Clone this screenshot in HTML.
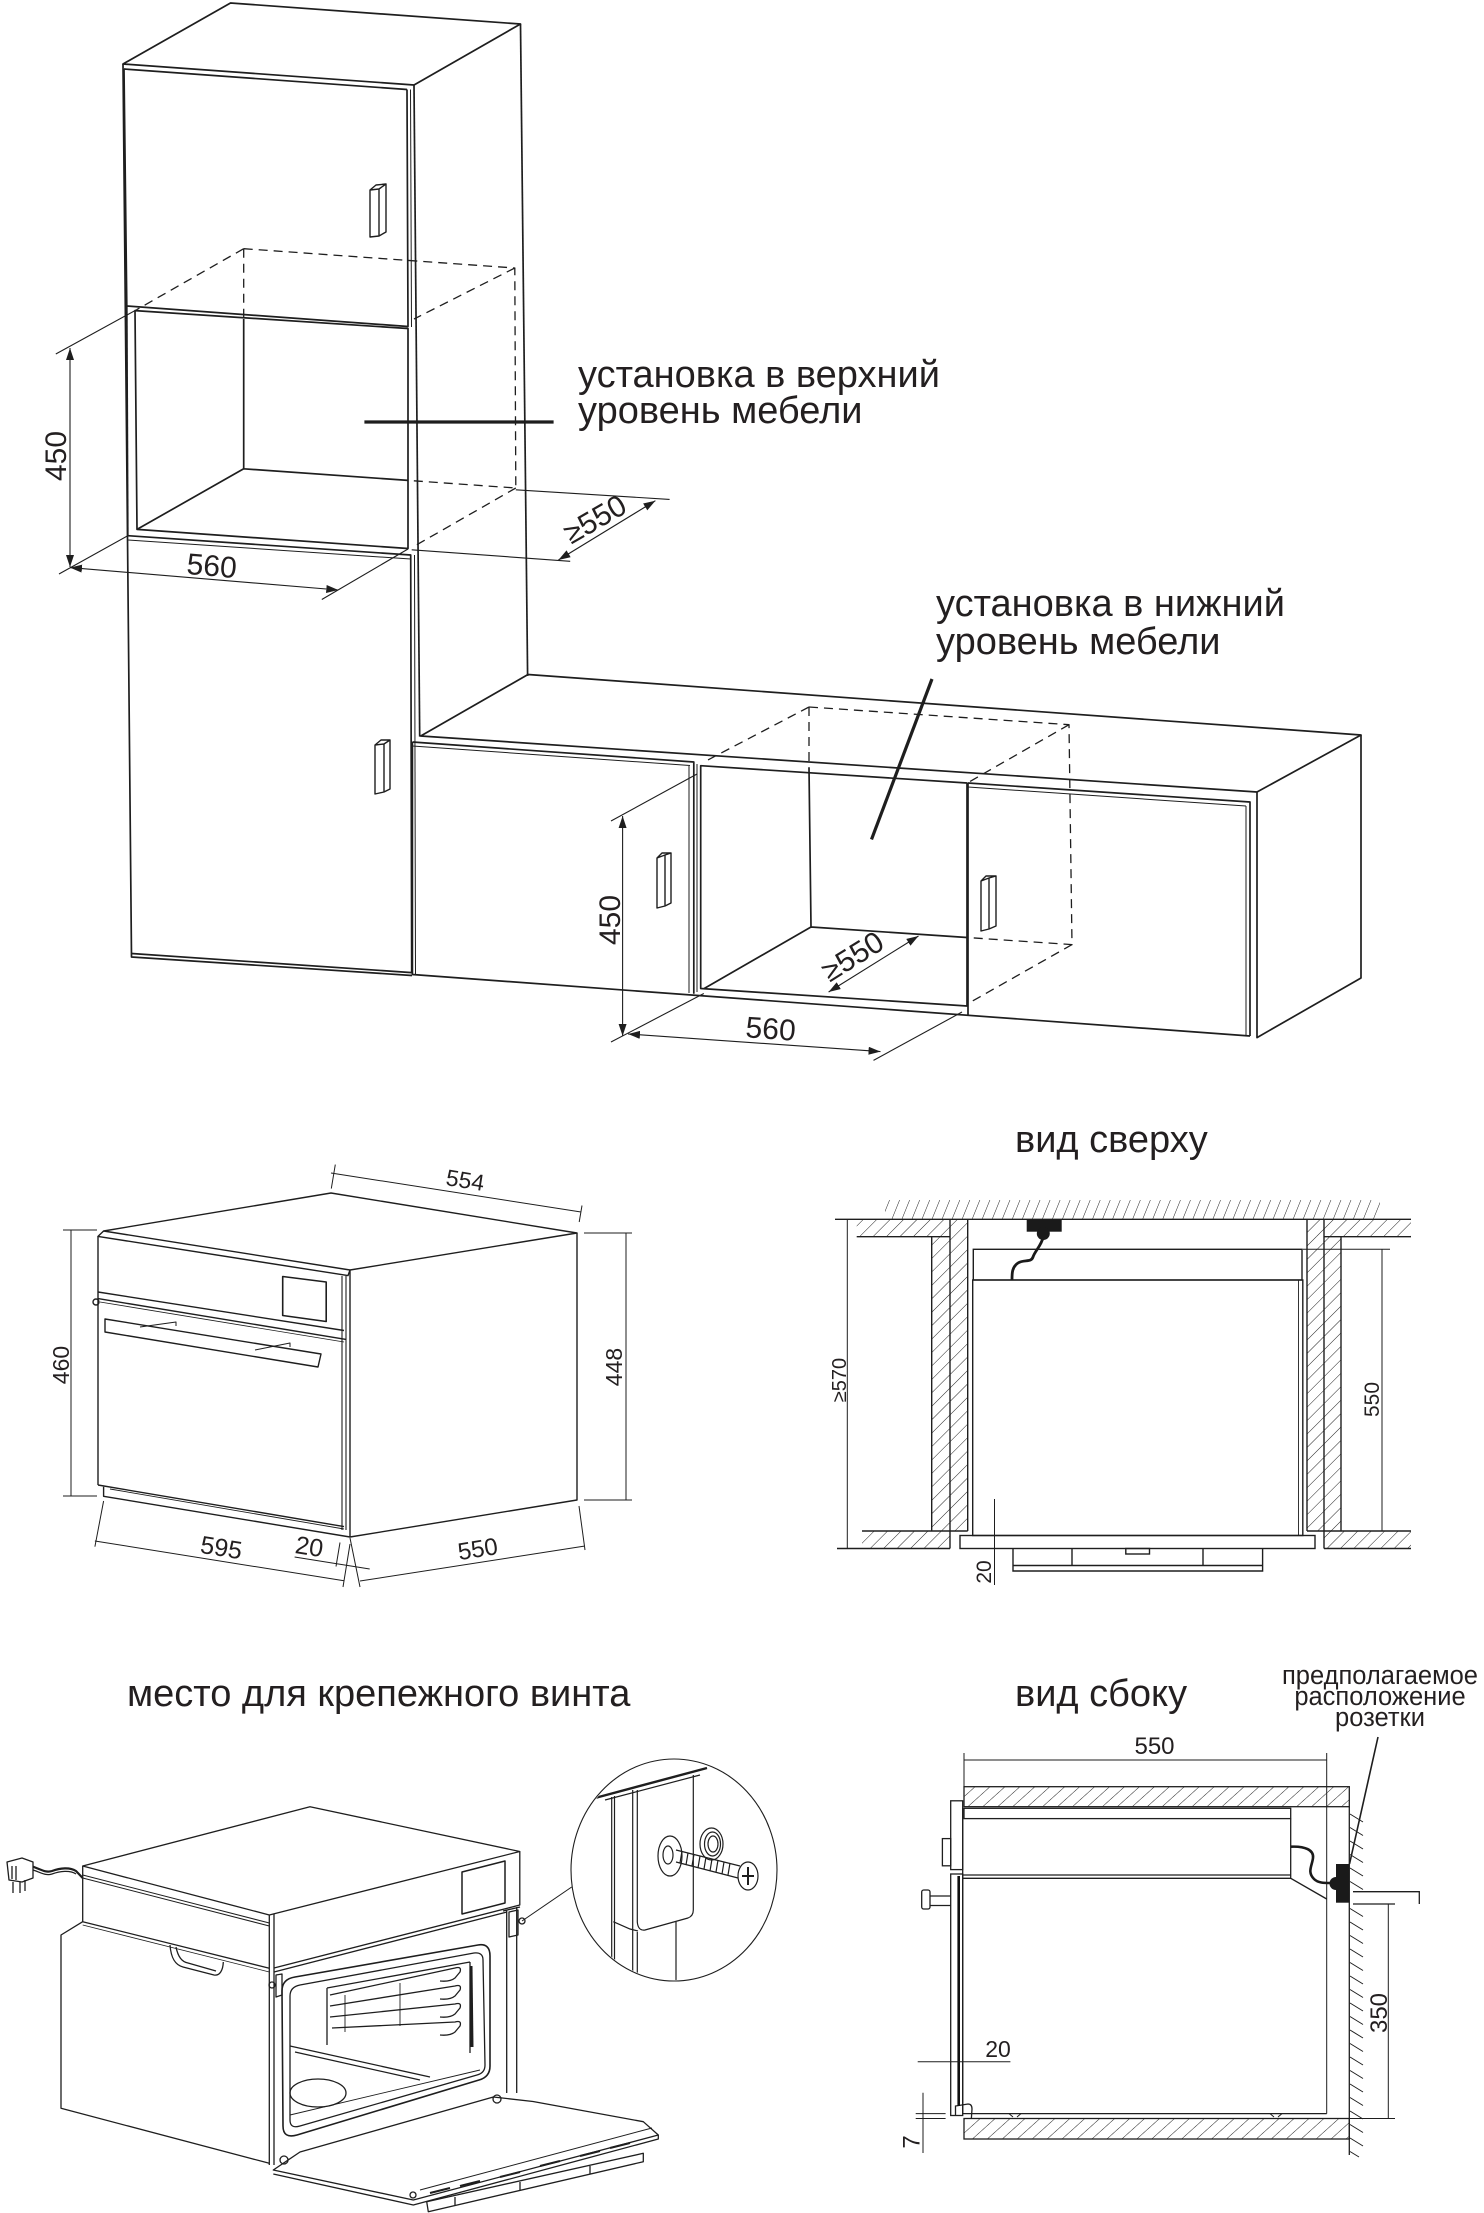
<!DOCTYPE html>
<html><head><meta charset="utf-8"><style>
html,body{margin:0;padding:0;background:#fff;}
svg{display:block;}
text{font-family:"Liberation Sans","DejaVu Sans",sans-serif;fill:#231f20;}
</style></head><body>
<svg xmlns="http://www.w3.org/2000/svg" width="1484" height="2213" viewBox="0 0 1484 2213">
<defs>
<marker id="ar" viewBox="0 0 12 8" refX="12" refY="4" markerWidth="12" markerHeight="8" markerUnits="userSpaceOnUse" orient="auto-start-reverse"><path d="M0,0 L12,4 L0,8 Z" fill="#1e1e1e"/></marker>
<pattern id="hA" width="9.5" height="9.5" patternUnits="userSpaceOnUse" patternTransform="rotate(45)"><line x1="0" y1="0" x2="0" y2="9.5" stroke="#222" stroke-width="1"/></pattern>
<pattern id="hB" width="9.3" height="9.3" patternUnits="userSpaceOnUse" patternTransform="rotate(22)"><line x1="0" y1="0" x2="0" y2="9.3" stroke="#222" stroke-width="1"/></pattern>
<pattern id="hC" width="10" height="10" patternUnits="userSpaceOnUse" patternTransform="rotate(48)"><line x1="0" y1="0" x2="0" y2="10" stroke="#222" stroke-width="1"/></pattern>
<clipPath id="mag"><ellipse cx="674" cy="1870" rx="102" ry="110"/></clipPath>
</defs>

<!-- ================= SECTION 1 : FURNITURE ================= -->
<g stroke="#1e1e1e" stroke-width="1.7" fill="none" stroke-linejoin="round">
  <path d="M123,64 L230.5,3 L520.5,24 L414,85 Z"/>
  <path d="M124,69 L407,89.5"/>
  <path d="M414,85 L419.7,736.6"/>
  <path d="M520.5,24 L527.6,676"/>
  <path d="M123,64 L131.5,957 L412,975.5"/>
  <path d="M124,69 L126.8,306 L408,326.5 L407,89.5"/>
  <path d="M410.5,89.5 L411.5,327" stroke-width="1"/>
  <path d="M135,310.6 L408,328.5 L408,548.5 L137,529.4 Z"/>
  <path d="M126.8,306 L127.8,535.7"/>
  <path d="M127.8,535.7 L410.7,555 L411.7,972.6 L131.5,953.5"/>
  <path d="M128,540 L410.7,559" stroke-width="1"/>
  <path d="M414.5,555 L415.5,974" stroke-width="1"/>
  <path d="M243.7,319 L243.7,468.8 L408,480.4 M243.7,468.8 L137,529.4"/>
  <g stroke-dasharray="9 6" stroke-width="1.3">
    <path d="M243.7,248.7 L243.7,319"/>
    <path d="M243.7,248.7 L514.8,268 L515.8,488 L408,480.4"/>
    <path d="M243.7,248.7 L137,309.5"/>
    <path d="M514.8,268 L414,319"/>
    <path d="M515.8,488 L416.4,545"/>
  </g>
  <path d="M370,190 L370,237 L379,236 L379,189 Z M370,190 L376,185 L386,184 L386,232 L379,236 M379,189 L386,184" stroke-width="1.4"/>
  <path d="M375,745 L375,794 L384,792 L384,744 Z M375,745 L381,740 L390,740 L390,789 L384,792 M384,744 L390,740" stroke-width="1.4"/>

  <path d="M420.7,736 L528,674.5 L1361,735 L1257,792 Z"/>
  <path d="M1361,735 L1361,978 L1257,1037.6 L1257,792"/>
  <path d="M412.4,742 L412.4,974.5 L1250,1036"/>
  <path d="M412.4,742 L693.8,762 L693.8,993.7"/>
  <path d="M412.4,746 L690,765.5 M689,765 L689,993" stroke-width="1"/>
  <path d="M700.7,765.7 L967,783 L967,1006 L700.7,988.5 Z"/>
  <path d="M697,764 L697,992" stroke-width="1"/>
  <path d="M968,783 L1250,802 L1250,1036 M968,783 L968,1015"/>
  <path d="M968,787 L1246,806 M1246,806 L1246,1035" stroke-width="1"/>
  <path d="M809,768 L811,927 L967,937.5 M811,927 L704.2,988.5"/>
  <g stroke-dasharray="9 6" stroke-width="1.3">
    <path d="M809,707 L809,768"/>
    <path d="M809,707 L1069,724.7 L1072,944.6 L967,937.5"/>
    <path d="M809,707 L704,762"/>
    <path d="M1069,724.7 L969,782"/>
    <path d="M1072,944.6 L969,1003"/>
  </g>
  <path d="M657,858 L657,908 L665,906 L665,855 Z M657,858 L662,853 L671,853 L671,903 L665,906 M665,855 L671,853" stroke-width="1.4"/>
  <path d="M981,881 L981,931 L989,929 L989,878 Z M981,881 L986,876 L996,876 L996,926 L989,929 M989,878 L996,876" stroke-width="1.4"/>
</g>

<g stroke="#1e1e1e" stroke-width="1.1" fill="none">
  <path d="M70,348 L70,567" marker-start="url(#ar)" marker-end="url(#ar)"/>
  <path d="M55.8,354 L137,309.5 M59,574 L127.8,535.7"/>
  <path d="M70,567.6 L338.3,590" marker-start="url(#ar)" marker-end="url(#ar)"/>
  <path d="M321.8,599.5 L408,549"/>
  <path d="M558.4,560 L655.4,500.7" marker-start="url(#ar)" marker-end="url(#ar)"/>
  <path d="M515.8,489.8 L669.6,499.4 M411.7,549.8 L570.2,561.3"/>
  <path d="M622.6,816 L622.6,1036" marker-start="url(#ar)" marker-end="url(#ar)"/>
  <path d="M611,821 L697,774 M611,1042 L703.8,993.5"/>
  <path d="M628,1034 L880.5,1051.6" marker-start="url(#ar)" marker-end="url(#ar)"/>
  <path d="M873.5,1060.4 L962,1012"/>
  <path d="M828.6,992 L918.5,936" marker-start="url(#ar)" marker-end="url(#ar)"/>
</g>
<g stroke="#1e1e1e" stroke-width="3.2" fill="none">
  <path d="M364.4,422 L553.6,422"/>
  <path d="M932,679 L871.5,839.4"/>
</g>
<g font-size="30">
  <text transform="translate(66,456) rotate(-90)" text-anchor="middle">450</text>
  <text transform="translate(211,576) rotate(4.8)" text-anchor="middle">560</text>
  <text transform="translate(600,528) rotate(-30)" text-anchor="middle">≥550</text>
  <text transform="translate(620,920) rotate(-90)" text-anchor="middle">450</text>
  <text transform="translate(770,1039) rotate(4)" text-anchor="middle">560</text>
  <text transform="translate(858,965) rotate(-32)" text-anchor="middle">≥550</text>
</g>
<g font-size="38">
  <text x="578" y="387">установка в верхний</text>
  <text x="578" y="423">уровень мебели</text>
  <text x="936" y="616">установка в нижний</text>
  <text x="936" y="654">уровень мебели</text>
</g>

<!-- ================= SECTION 2 LEFT : OVEN FRONT ================= -->
<g stroke="#1e1e1e" stroke-width="1.4" fill="none" stroke-linejoin="round">
  <path d="M103.6,1231 L331,1193 L577,1233 L350,1270 Z"/>
  <path d="M350,1270 L350,1537 L577,1500 L577,1233"/>
  <path d="M103.6,1231 L98,1236.4 L348,1275.6 L350,1270"/>
  <path d="M98,1236.4 L98,1485"/>
  <path d="M98,1292 L344,1330.5"/>
  <path d="M98,1298.6 L346,1339.4"/>
  <path d="M100,1302 L344,1342" stroke-width="0.8"/>
  <path d="M98,1485 L344,1526.6"/>
  <path d="M342,1276 L342,1530 M346,1276 L346,1530" stroke-width="1.1"/>
  <path d="M282.7,1276.5 L326.2,1282 L326.2,1321.5 L282.7,1315.5 Z" stroke-width="1.6"/>
  <path d="M105,1319 L321,1354 L318,1367 L105,1332 Z"/>
  <path d="M140,1327 L176,1322 L176,1326 M255,1350 L290,1343 L290,1347" stroke-width="1"/>
  <circle cx="96" cy="1302" r="3"/>
  <path d="M103.6,1486.7 L103.6,1496.3 L350,1537"/>
  <path d="M110,1489 L344,1529" stroke-width="0.9"/>
</g>
<g stroke="#1e1e1e" stroke-width="1" fill="none">
  <path d="M71,1230 L71,1496 M63,1230 L97,1230 M63,1496 L97,1496"/>
  <path d="M626,1233 L626,1500 M584,1233 L632,1233 M584,1500 L632,1500"/>
  <path d="M331,1173 L581,1212 M331.3,1188.6 L335.3,1164.6 M579.2,1222 L582,1205.5"/>
  <path d="M94.9,1541 L344,1580.8 M103.6,1501 L94.9,1546.7 M350,1544 L343,1587"/>
  <path d="M294.6,1557 L369.7,1569 M340,1542.5 L336,1566.5"/>
  <path d="M360,1581 L585,1546 M350,1538 L360,1587 M579,1506 L585,1550"/>
</g>
<g font-size="23">
  <text transform="translate(69,1365) rotate(-90)" text-anchor="middle">460</text>
  <text transform="translate(622,1367) rotate(-90)" text-anchor="middle">448</text>
  <text transform="translate(464,1188) rotate(9)" text-anchor="middle">554</text>
  <text transform="translate(220,1556) rotate(9)" text-anchor="middle" font-size="25">595</text>
  <text transform="translate(308,1555) rotate(9)" text-anchor="middle" font-size="25">20</text>
  <text transform="translate(479,1557) rotate(-9)" text-anchor="middle" font-size="24">550</text>
</g>

<!-- ================= SECTION 2 RIGHT : TOP VIEW ================= -->
<text x="1015" y="1152" font-size="38">вид сверху</text>
<g>
  <rect x="885" y="1200" width="495" height="19" fill="url(#hB)"/>
  <rect x="856.7" y="1219.3" width="111" height="17.4" fill="url(#hA)"/>
  <rect x="931.7" y="1236.7" width="36" height="294.3" fill="url(#hA)"/>
  <rect x="862" y="1531" width="88" height="17.5" fill="url(#hA)"/>
  <rect x="1307" y="1219.3" width="104" height="17.4" fill="url(#hA)"/>
  <rect x="1307" y="1236.7" width="34" height="294.3" fill="url(#hA)"/>
  <rect x="1324" y="1531" width="87" height="17.5" fill="url(#hA)"/>
</g>
<g stroke="#1e1e1e" stroke-width="1.4" fill="none">
  <path d="M835,1219.3 L1411,1219.3"/>
  <path d="M856.7,1236.7 L950,1236.7 M931.7,1236.7 L931.7,1531 M950,1219.3 L950,1548.5 M967.7,1219.3 L967.7,1531"/>
  <path d="M862,1531 L967.7,1531 M837,1548.5 L950,1548.5"/>
  <path d="M1324,1236.7 L1411,1236.7 M1307,1219.3 L1307,1531 M1324,1219.3 L1324,1548.5 M1341,1236.7 L1341,1531"/>
  <path d="M1307,1531 L1411,1531 M1324,1548.5 L1411,1548.5"/>
  <rect x="973.3" y="1249.3" width="328.7" height="30.7"/>
  <rect x="972.7" y="1280" width="330.1" height="255.5"/>
  <path d="M1298.5,1280 L1298.5,1535.5" stroke-width="0.9"/>
  <rect x="960" y="1535.5" width="355" height="13"/>
  <path d="M1013,1548.5 L1013,1571 L1262.6,1571 L1262.6,1548.5 M1013,1565.5 L1262.6,1565.5 M1072,1548.5 L1072,1565.5 M1203,1548.5 L1203,1565.5"/>
  <rect x="1125.8" y="1548.5" width="23.7" height="5.5"/>
</g>
<g fill="#1a1a1a" stroke="none">
  <rect x="1026.7" y="1219.3" width="35" height="12.4"/>
  <circle cx="1043.3" cy="1233.5" r="6.5"/>
</g>
<path d="M1043.3,1237 C1041,1246 1035,1251 1033,1257 C1031,1263 1024,1259 1018,1263 C1012,1267 1012,1273 1012,1280" stroke="#1a1a1a" stroke-width="2.8" fill="none"/>
<g stroke="#1e1e1e" stroke-width="1" fill="none">
  <path d="M847.3,1219.3 L847.3,1548.5"/>
  <path d="M1382,1249.3 L1382,1531 M1302.8,1249.3 L1390,1249.3"/>
  <path d="M994.5,1499 L994.5,1585"/>
</g>
<g font-size="21">
  <text transform="translate(846,1380) rotate(-90)" text-anchor="middle" font-size="20">≥570</text>
  <text transform="translate(1379,1399.5) rotate(-90)" text-anchor="middle">550</text>
  <text transform="translate(991,1572) rotate(-90)" text-anchor="middle">20</text>
</g>

<!-- ================= SECTION 3 LEFT : OVEN PERSPECTIVE ================= -->
<text x="127" y="1706" font-size="38">место для крепежного винта</text>
<g stroke="#1e1e1e" stroke-width="1.3" fill="none" stroke-linejoin="round">
  <path d="M7,1862 L22,1858 L33,1862 L33,1878 L22,1882 L9,1880 Z M12,1866 L12,1879 M16,1866 L16,1880"/>
  <path d="M13,1882 L13,1893 M20,1882 L20,1893 M25,1880 L25,1891"/>
  <path d="M33,1866.7 C42,1870 46,1873 52,1871 C60,1868 70,1867 76,1871 L82.7,1878" stroke-width="2.2"/>
  <path d="M33,1870 C42,1873 46,1876 52,1874 C60,1871 70,1870 76,1874"/>
  <path d="M82.7,1866 L310,1806.7 L519.8,1851.5 L269.3,1915 Z"/>
  <path d="M82.7,1875 L269.3,1923 M82.7,1878 L269.3,1926" stroke-width="1"/>
  <path d="M82.7,1866 L82.7,1921.7 L269.3,1968.3"/>
  <path d="M82.7,1925 L269.3,1972" stroke-width="0.8"/>
  <path d="M82.7,1921.7 L61,1935 L61,2108.3 L269.3,2163.3"/>
  <path d="M170,1945 C171,1958 175,1965 183,1967 L214,1975 C220,1976 223,1970 223.3,1962"/>
  <path d="M176,1947 C178,1957 182,1962 188,1963 L216,1971"/>
  <path d="M269.3,1915 L269.3,2165 M274,1913.7 L274,2165"/>
  <path d="M519.8,1851.5 L519.8,1905 L274,1968"/>
  <path d="M462,1872 L505,1861 L505,1903 L462,1914 Z" stroke-width="1.5"/>
  <path d="M506.7,1910 L506.7,2093 M516.7,1907 L516.7,2093 M503,1911 L520,1907"/>
  <path d="M509,1912 L518,1910 L518,1935 L509,1937 Z"/>
  <circle cx="522" cy="1921" r="3"/>
  <path d="M274,1972 L507,1912"/>
  <path d="M276,1975 L282,1974 L282,1995 L276,1997 Z"/>
  <circle cx="272" cy="1985" r="3"/>
  <path d="M295,1977 L478,1945 Q490,1943 490,1956 L490,2066 Q490,2077 479,2080 L297,2135 Q283,2139 283,2126 L282,1991 Q282,1979 295,1977 Z" stroke-width="1.6"/>
  <path d="M300,1985 L474,1953 Q483,1952 483,1960 L485,2065 Q485,2073 477,2075 L300,2126 Q290,2129 290,2120 L290,1996 Q290,1987 300,1985 Z"/>
  <path d="M327,1988 L470,1962 M327,1988 L327,2045 M470,1962 L470,2053"/>
  <path d="M471,1966 L472,2047" stroke-width="3"/>
  <path d="M330,1995 L455,1968 Q462,1966 460,1972 L455,1978 Q450,1982 440,1981 M330,2006 L455,1986 Q462,1984 460,1990 L455,1996 Q450,2000 440,1999 M330,2017 L455,2004 Q462,2002 460,2008 L455,2014 Q450,2018 440,2017 M332,2028 L455,2022 Q462,2020 460,2026 L455,2032 Q450,2036 440,2035"/>
  <path d="M345,1995 L345,2032 M400,1983 L400,2026" stroke-width="0.9"/>
  <path d="M290,2046 L430,2077 M295,2052 L420,2080"/>
  <ellipse cx="318" cy="2093" rx="28" ry="14"/>
  <path d="M290,2115 L480,2070" stroke-width="0.9"/>
  <path d="M273.3,2170 L300,2152 L493.3,2097 L533,2101.5 L643.3,2121.7 L658.3,2135 L413.3,2200 Z"/>
  <path d="M273.3,2174 L413.3,2205 L658.3,2139 L658.3,2135"/>
  <path d="M420,2190 L652,2128" stroke-width="1"/>
  <path d="M430,2193 L450,2188 M460,2186 L480,2181 M500,2177 L520,2172 M540,2166 L560,2161 M580,2156 L600,2151 M610,2148 L630,2143" stroke-width="2"/>
  <path d="M426.7,2201.7 L643.3,2153.3 L643.3,2161.7 L428.3,2211.7 Z"/>
  <path d="M455,2197 L455,2205 M520,2182 L520,2190 M590,2166 L590,2174"/>
  <circle cx="284" cy="2160" r="4"/>
  <circle cx="497" cy="2099" r="4"/>
  <circle cx="413" cy="2195" r="3"/>
</g>
<g stroke="#1e1e1e" fill="none">
  <ellipse cx="674" cy="1870" rx="103" ry="111" stroke-width="1.1"/>
  <path d="M522,1921 L571.7,1887" stroke-width="1"/>
  <g clip-path="url(#mag)" stroke-width="1.2">
    <path d="M595,1798 L707,1768" stroke-width="2.4"/>
    <path d="M605,1800 L700,1775"/>
    <path d="M611.7,1797 L611.7,1985 M614.5,1796 L614.5,1985"/>
    <path d="M632.7,1790 L632.7,1985"/>
    <path d="M637.3,1790 L637.3,1922 Q638,1931 645,1930 L688,1918 Q693.3,1916 693.3,1910 L693.3,1775"/>
    <path d="M613.3,1921.7 L630,1929 L638,1931"/>
    <path d="M637.3,1932 L637.3,1985 M676,1921.7 L676,1985"/>
    <ellipse cx="670" cy="1856" rx="12" ry="20"/>
    <ellipse cx="668" cy="1855" rx="5" ry="9"/>
    <ellipse cx="711.5" cy="1844" rx="11.5" ry="16"/>
    <ellipse cx="712.5" cy="1844" rx="8" ry="12"/>
    <ellipse cx="713" cy="1844" rx="5" ry="8"/>
    <path d="M676,1850 L740,1866 M676,1862 L738,1878"/>
    <path d="M682,1851 L680,1863 M688,1853 L686,1865 M694,1854 L692,1866 M700,1856 L698,1868 M706,1857 L704,1869 M712,1859 L710,1871 M718,1860 L716,1872 M724,1862 L722,1874 M730,1863 L728,1875"/>
    <ellipse cx="748" cy="1876" rx="10" ry="14"/>
    <path d="M748,1867 L748,1885 M742,1876 L754,1876" stroke-width="2"/>
  </g>
</g>

<!-- ================= SECTION 3 RIGHT : SIDE VIEW ================= -->
<text x="1015" y="1706" font-size="38">вид сбоку</text>
<g font-size="25.5" text-anchor="middle">
  <text x="1380" y="1684">предполагаемое</text>
  <text x="1380" y="1705">расположение</text>
  <text x="1380" y="1726">розетки</text>
</g>
<path d="M1378,1737 L1349.5,1864" stroke="#1e1e1e" stroke-width="1.6"/>
<rect x="964" y="1786.7" width="385.3" height="20" fill="url(#hC)"/>
<rect x="964" y="2118.5" width="385.3" height="20.5" fill="url(#hC)"/>
<g stroke="#1e1e1e" stroke-width="1.3" fill="none">
  <rect x="964" y="1786.7" width="385.3" height="20"/>
  <rect x="964" y="2118.5" width="385.3" height="20.5"/>
  <rect x="964" y="1808.3" width="326.7" height="10.3"/>
  <path d="M1290.7,1818.6 L1290.7,1878.3 M962.7,1875 L1290.7,1875 M962.7,1878.3 L1290.7,1878.3 L1326.7,1899"/>
  <path d="M962.7,1808 L962.7,2113.6 L1326.7,2113.6"/>
  <path d="M1009,2113.6 L1013,2117 M1017,2117 L1021,2113.6 M1270,2113.6 L1274,2117 M1278,2117 L1282,2113.6" stroke-width="1"/>
  <rect x="950.7" y="1800.8" width="12" height="68.8"/>
  <rect x="942.4" y="1838.6" width="8.3" height="27.2"/>
  <rect x="950.7" y="1874" width="12" height="241.5"/>
  <path d="M930,1896 L950.7,1896 M930,1905.5 L950.7,1905.5"/>
  <rect x="921.7" y="1890" width="8.3" height="19" rx="2"/>
  <path d="M955.5,2116 L955.5,2106 L968,2104 Q972,2104 972,2109 L971.4,2118"/>
  <path d="M1349.3,1806.7 L1349.3,2155"/>
  <path d="M1350,1814 l13,8 M1350,1827.5 l13,8 M1350,1841 l13,8 M1350,1854.5 l13,8 M1350,1868 l13,8 M1350,1881.5 l13,8 M1350,1908.5 l13,8 M1350,1922 l13,8 M1350,1935.5 l13,8 M1350,1949 l13,8 M1350,1962.5 l13,8 M1350,1976 l13,8 M1350,1989.5 l13,8 M1350,2003 l13,8 M1350,2016.5 l13,8 M1350,2030 l13,8 M1350,2043.5 l13,8 M1350,2057 l13,8 M1350,2070.5 l13,8 M1350,2084 l13,8 M1350,2097.5 l13,8 M1350,2111 l13,8 M1350,2124.5 l13,8 M1350,2138 l13,8 M1350,2151.5 l9,5.5" stroke-width="1"/>
  <path d="M1353,1891.7 L1419.3,1891.7 L1419.3,1904 M1353,1904 L1395,1904"/>
</g>
<path d="M958.7,1876 L958.7,2106" stroke="#111" stroke-width="2.6"/>
<g fill="#1a1a1a">
  <rect x="1336" y="1864" width="13.3" height="38.7"/>
  <path d="M1336,1877 A6.5,6.5 0 0 0 1336,1890 Z"/>
</g>
<path d="M1290.7,1846.7 C1305,1846 1314,1850 1313,1858 C1312,1866 1307,1872 1314,1879 C1318,1883 1324,1883 1330,1883" stroke="#1a1a1a" stroke-width="2.6" fill="none"/>
<g stroke="#1e1e1e" stroke-width="1" fill="none">
  <path d="M964,1760 L1326.7,1760 M964,1753 L964,1786.7 M1326.7,1753 L1326.7,2113.6"/>
  <path d="M1388.3,1904 L1388.3,2118.5 M1350,2118.5 L1395,2118.5"/>
  <path d="M917.7,2061.7 L1010.4,2061.7"/>
  <path d="M923,2092.8 L923,2153 M915.7,2113.6 L945.6,2113.6 M915.7,2118.5 L945.6,2118.5"/>
</g>
<g font-size="24">
  <text x="1154.5" y="1754" text-anchor="middle">550</text>
  <text transform="translate(1387,2013) rotate(-90)" text-anchor="middle">350</text>
  <text x="998" y="2057" text-anchor="middle" font-size="23">20</text>
  <text transform="translate(919.5,2142) rotate(-90)" text-anchor="middle">7</text>
</g>
</svg>
</body></html>
